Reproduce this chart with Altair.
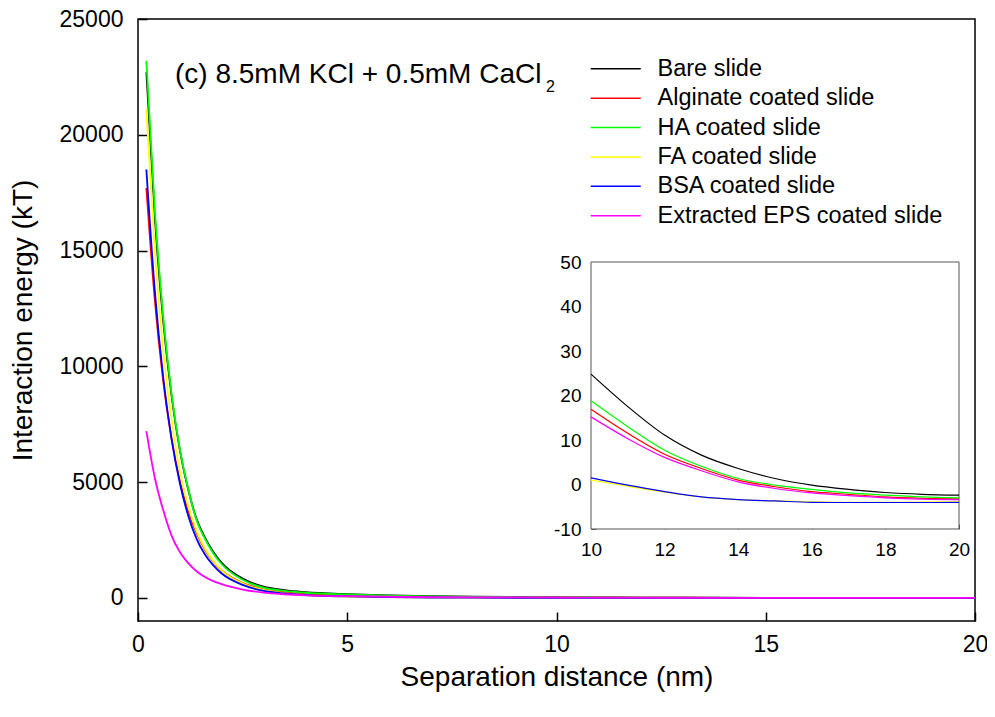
import altair as alt
import pandas as pd

# ---------------- data ----------------
x_nm = [0.2, 0.4, 0.6, 0.8, 1.0, 1.2, 1.4, 1.6, 1.8, 2.0, 2.5, 3.0, 3.5, 4.0,
        5.0, 6.0, 7.0, 8.0, 9.0, 10, 11, 12, 13, 14, 15, 16, 17, 18, 19, 20]

series_names = ["Bare slide", "Alginate coated slide", "HA coated slide",
                "FA coated slide", "BSA coated slide", "Extracted EPS coated slide"]
series_colors = ["#000000", "#ff0000", "#00ff00", "#ffff00", "#0000ff", "#ff00ff"]

bare = [22700, 16500, 12000, 8750, 6380, 4680, 3400, 2600, 1980, 1510, 830, 480, 330, 245,
        160, 108, 73, 50, 35, 24.8, 17.5, 11.1, 6.6, 3.6, 1.35, -0.15, -1.1, -1.8, -2.2, -2.4]
alginate = [17700, 12900, 9400, 6900, 5050, 3750, 2800, 2080, 1560, 1180, 640, 370, 240, 170,
            100, 65, 45, 32, 23, 16.9, 11.5, 6.8, 3.6, 1.0, -0.5, -1.6, -2.2, -2.8, -3.1, -3.2]
ha = [23200, 16800, 12200, 8850, 6420, 4700, 3350, 2550, 1920, 1450, 780, 440, 300, 220,
      145, 95, 62, 42, 28, 18.8, 13.0, 7.7, 4.1, 1.35, -0.15, -1.1, -1.9, -2.4, -2.8, -3.0]
fa = [21100, 15000, 10700, 7700, 5450, 3950, 2880, 2120, 1580, 1180, 620, 340, 200, 120,
      55, 27, 13, 6, 3, 1.0, -0.4, -1.7, -2.8, -3.4, -3.7, -3.9, -4.0, -4.0, -3.95, -3.9]
bsa = [18500, 13300, 9560, 6880, 4950, 3550, 2550, 1870, 1400, 1050, 560, 300, 190, 120,
       60, 30, 15, 8, 4, 1.5, -0.15, -1.6, -2.8, -3.4, -3.7, -4.0, -4.05, -4.05, -4.05, -4.0]
eps = [7200, 5200, 3800, 2700, 1980, 1500, 1150, 900, 720, 590, 360, 225, 155, 110,
       70, 47, 33, 24, 18.5, 15.2, 10.3, 6.1, 3.1, 0.6, -0.9, -1.9, -2.5, -3.0, -3.3, -3.4]

main_x_ticks = [0, 5, 10, 15, 20]
main_y_ticks = [0, 5000, 10000, 15000, 20000, 25000]
inset_x_ticks = [10, 12, 14, 16, 18, 20]
inset_y_ticks = [-10, 0, 10, 20, 30, 40, 50]
main_x_domain = [0, 20]
main_y_domain = [-1000, 25000]
inset_x_domain = [10, 20]
inset_y_domain = [-10, 50]

title_main = "(c) 8.5mM KCl + 0.5mM CaCl"
title_sub = "2"

# ---------------- build table ----------------
rows = []
for name, vals in zip(series_names, [bare, alginate, ha, fa, bsa, eps]):
    for xv, yv in zip(x_nm, vals):
        rows.append({"x": xv, "E": yv, "series": name})
df = pd.DataFrame(rows)

# ---------------- layout constants ----------------
W, H = 837, 602
IX0, IX1 = 453, 821      # inset left/right within plot
IY0, IY1 = 510, 243      # inset bottom/top within plot
FONT = "Liberation Sans"
LBL = "'' + datum.value"

main_x_scale = alt.Scale(domain=main_x_domain, nice=False, zero=False)
main_y_scale = alt.Scale(domain=main_y_domain, nice=False, zero=False)
inset_x_scale = alt.Scale(domain=inset_x_domain, range=[IX0, IX1], nice=False, zero=False)
inset_y_scale = alt.Scale(domain=inset_y_domain, range=[IY0, IY1], nice=False, zero=False)
color_scale = alt.Scale(domain=series_names, range=series_colors)

main_lines = alt.Chart(df).mark_line(strokeWidth=1.8, interpolate="monotone").encode(
    x=alt.X("x:Q", scale=main_x_scale, title="Separation distance (nm)",
            axis=alt.Axis(values=main_x_ticks, orient="bottom", ticks=False, tickSize=0,
                          domain=False, grid=False, labelFontSize=23, labelPadding=12,
                          labelFlush=False, labelExpr=LBL, titleFontSize=28, titlePadding=7)),
    y=alt.Y("E:Q", scale=main_y_scale, title="Interaction energy (kT)",
            axis=alt.Axis(values=main_y_ticks, orient="left", ticks=False, tickSize=0,
                          domain=False, grid=False, labelFontSize=23, labelPadding=15,
                          labelFlush=False, labelExpr=LBL, titleFontSize=28, titlePadding=22)),
    color=alt.Color("series:N", scale=color_scale,
                    legend=alt.Legend(title=None, orient="none", legendX=466, legendY=38,
                                      labelFontSize=23.5, labelFont=FONT, labelColor="black",
                                      symbolType="M-5,0L5,0", symbolSize=100,
                                      symbolStrokeWidth=1.5, rowPadding=4.4, labelOffset=30,
                                      padding=0, labelLimit=500)),
)

corner = pd.DataFrame({"x": main_x_domain, "E": main_y_domain})
main_ticks = alt.Chart(corner).mark_point(opacity=0).encode(
    x=alt.X("x:Q", scale=main_x_scale, title=None,
            axis=alt.Axis(values=main_x_ticks, orient="top", offset=-H, labels=False,
                          domain=False, grid=False, tickSize=9, tickWidth=1.5,
                          tickColor="black")),
    y=alt.Y("E:Q", scale=main_y_scale, title=None,
            axis=alt.Axis(values=main_y_ticks, orient="right", offset=-W, labels=False,
                          domain=False, grid=False, tickSize=9, tickWidth=1.5,
                          tickColor="black")),
)

frame_df = pd.DataFrame({"x0": [inset_x_domain[0]], "x1": [inset_x_domain[1]],
                         "y0": [inset_y_domain[0]], "y1": [inset_y_domain[1]]})
inset_frame = alt.Chart(frame_df).mark_rect(fill="white", stroke="#555555", strokeWidth=1).encode(
    x=alt.X("x0:Q", scale=inset_x_scale, title=None,
            axis=alt.Axis(values=inset_x_ticks, orient="bottom", offset=-(H - IY0),
                          ticks=False, tickSize=0, domain=False, grid=False,
                          labelFontSize=19, labelPadding=11, labelFlush=False,
                          labelExpr=LBL)),
    x2="x1:Q",
    y=alt.Y("y0:Q", scale=inset_y_scale, title=None,
            axis=alt.Axis(values=inset_y_ticks, orient="left", offset=-IX0,
                          ticks=False, tickSize=0, domain=False, grid=False,
                          labelFontSize=19, labelPadding=10, labelFlush=False,
                          labelExpr=LBL)),
    y2="y1:Q",
)

inset_lines = alt.Chart(df).transform_filter(alt.datum.x >= 10).mark_line(
    strokeWidth=1.2, interpolate="monotone").encode(
    x=alt.X("x:Q", scale=inset_x_scale, title=None,
            axis=alt.Axis(values=inset_x_ticks, orient="top", offset=-IY0, labels=False,
                          domain=False, grid=False, tickSize=5, tickWidth=1,
                          tickColor="#555555")),
    y=alt.Y("E:Q", scale=inset_y_scale, title=None,
            axis=alt.Axis(values=inset_y_ticks, orient="right", offset=-(W - IX0),
                          labels=False, domain=False, grid=False, tickSize=5, tickWidth=1,
                          tickColor="#555555")),
    color=alt.Color("series:N", scale=color_scale, legend=None),
)

title_df = pd.DataFrame({"t": [title_main], "s": [title_sub]})
title_text = alt.Chart(title_df).mark_text(
    align="left", baseline="alphabetic", fontSize=28, font=FONT, color="black").encode(
    x=alt.value(37), y=alt.value(64), text="t:N")
sub_text = alt.Chart(title_df).mark_text(
    align="left", baseline="alphabetic", fontSize=16, font=FONT, color="black").encode(
    x=alt.value(408), y=alt.value(73), text="s:N")

chart = alt.layer(main_lines, main_ticks, inset_frame, inset_lines, title_text, sub_text).resolve_scale(
    x="independent", y="independent"
).properties(
    width=W, height=H,
    autosize=alt.AutoSizeParams(type="none"),
    padding={"left": 130, "top": 11, "right": 12, "bottom": 88},
    background="white",
).configure_view(
    stroke="black", strokeWidth=1.5
).configure_axis(
    labelFont=FONT, titleFont=FONT, labelColor="black", titleColor="black",
    titleFontWeight="normal"
)

chart.save("out.html", embed_options={"renderer": "svg", "actions": False})
